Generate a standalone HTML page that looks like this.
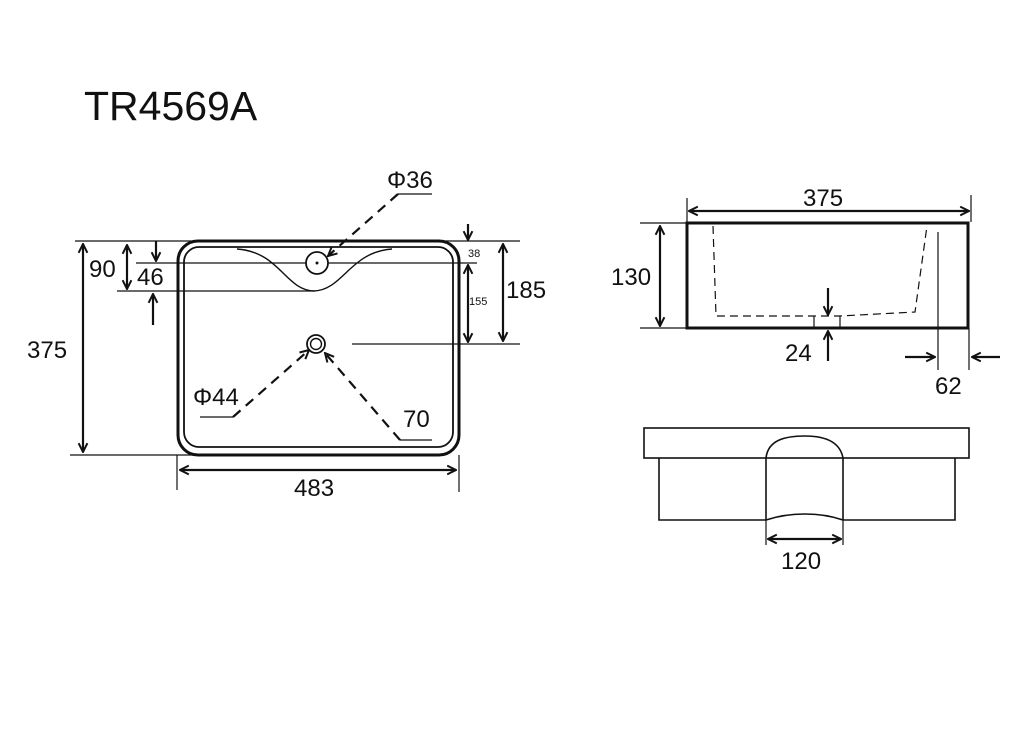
<!DOCTYPE html>
<html><head><style>
html,body{margin:0;padding:0;background:#fff;}
svg{display:block;}
text{font-family:"Liberation Sans",Arial,sans-serif;fill:#111;}
</style></head><body>
<svg width="1024" height="729" viewBox="0 0 1024 729" xmlns="http://www.w3.org/2000/svg">
<defs>
<marker id="a" viewBox="0 0 10 10" refX="9" refY="5" markerWidth="11" markerHeight="11" orient="auto-start-reverse" markerUnits="userSpaceOnUse">
<path d="M1,1 L9,5 L1,9" fill="none" stroke="#111" stroke-width="1.8"/>
</marker>
</defs>
<text x="84" y="120" font-size="41">TR4569A</text>

<g stroke="#111" fill="none">
<rect x="178" y="241" width="281" height="214" rx="20" stroke-width="3"/>
<rect x="184" y="247" width="269" height="200" rx="15" stroke-width="1.8"/>
<path d="M237,249 C280,252 285,290 314,291 C343,290 350,252 392,249" stroke-width="1.4"/>
<circle cx="317" cy="263" r="11" stroke-width="1.8"/>
<circle cx="317" cy="263" r="1" fill="#111"/>
<circle cx="316" cy="344" r="9" stroke-width="1.8"/>
<circle cx="316" cy="344" r="5.5" stroke-width="1.4"/>
<g stroke-width="1.2">
<line x1="75" y1="241" x2="520" y2="241"/>
<line x1="70" y1="455" x2="307" y2="455"/>
<line x1="136" y1="263" x2="306" y2="263"/>
<line x1="328" y1="263" x2="477" y2="263"/>
<line x1="117" y1="291" x2="314" y2="291"/>
<line x1="352" y1="344" x2="520" y2="344"/>
<line x1="177" y1="455" x2="177" y2="490"/>
<line x1="459" y1="455" x2="459" y2="492"/>
</g>
<g stroke-width="2.2">
<line x1="83" y1="244" x2="83" y2="452" marker-start="url(#a)" marker-end="url(#a)"/>
<line x1="127" y1="245" x2="127" y2="289" marker-start="url(#a)" marker-end="url(#a)"/>
<line x1="156" y1="241" x2="156" y2="261" marker-end="url(#a)"/>
<line x1="153" y1="325" x2="153" y2="294" marker-end="url(#a)"/>
<line x1="468" y1="224" x2="468" y2="240" marker-end="url(#a)"/>
<line x1="468" y1="265" x2="468" y2="342" marker-start="url(#a)" marker-end="url(#a)"/>
<line x1="503" y1="244" x2="503" y2="341" marker-start="url(#a)" marker-end="url(#a)"/>
<line x1="180" y1="470" x2="456" y2="470" marker-start="url(#a)" marker-end="url(#a)"/>
</g>
<g stroke-width="2.2" stroke-dasharray="10,7">
<line x1="398" y1="194" x2="328" y2="256" marker-end="url(#a)"/>
<line x1="233" y1="417" x2="309" y2="350" marker-end="url(#a)"/>
<line x1="400" y1="440" x2="325" y2="353" marker-end="url(#a)"/>
</g>
<g stroke-width="1.2">
<line x1="398" y1="194" x2="432" y2="194"/>
<line x1="200" y1="417" x2="233" y2="417"/>
<line x1="400" y1="440" x2="432" y2="440"/>
</g>

<rect x="687" y="223" width="281" height="105" stroke-width="3"/>
<g stroke-width="1.2">
<line x1="640" y1="223" x2="687" y2="223"/>
<line x1="640" y1="328" x2="687" y2="328"/>
<line x1="687" y1="198" x2="687" y2="222"/>
<line x1="971" y1="195" x2="971" y2="222"/>
<line x1="938" y1="232" x2="938" y2="370"/>
<line x1="969" y1="328" x2="969" y2="370"/>
<line x1="814" y1="316" x2="814" y2="328"/>
<line x1="840" y1="316" x2="840" y2="328"/>
</g>
<path d="M713,226 L716,316 L814,316 L840,316 L915,312 L927,226" stroke-width="1.2" stroke-dasharray="8,5"/>
<g stroke-width="2.2">
<line x1="689" y1="211" x2="969" y2="211" marker-start="url(#a)" marker-end="url(#a)"/>
<line x1="660" y1="226" x2="660" y2="326" marker-start="url(#a)" marker-end="url(#a)"/>
<line x1="828" y1="288" x2="828" y2="315" marker-end="url(#a)"/>
<line x1="828" y1="361" x2="828" y2="331" marker-end="url(#a)"/>
<line x1="905" y1="357" x2="935" y2="357" marker-end="url(#a)"/>
<line x1="1000" y1="357" x2="972" y2="357" marker-end="url(#a)"/>
</g>

<g stroke-width="1.6">
<rect x="644" y="428" width="325" height="30"/>
<path d="M659,458 L659,520 L766,520 M843,520 L955,520 L955,458"/>
<path d="M766,520 L766,458 C768,440 785,436 805,436 C825,436 840,442 843,458 L843,520"/>
<path d="M766,520 C790,512 820,512 843,520"/>
<line x1="766" y1="520" x2="766" y2="545" stroke-width="1.2"/>
<line x1="843" y1="520" x2="843" y2="545" stroke-width="1.2"/>
</g>
<line x1="768" y1="539" x2="841" y2="539" stroke-width="2.2" marker-start="url(#a)" marker-end="url(#a)"/>
</g>

<g font-size="24">
<text x="387" y="188">Φ36</text>
<text x="27" y="358">375</text>
<text x="89" y="277">90</text>
<text x="137" y="285">46</text>
<text x="506" y="298">185</text>
<text x="294" y="496">483</text>
<text x="193" y="405">Φ44</text>
<text x="403" y="427">70</text>
<text x="803" y="206">375</text>
<text x="611" y="285">130</text>
<text x="785" y="361">24</text>
<text x="935" y="394">62</text>
<text x="781" y="569">120</text>
</g>
<text x="468" y="257" font-size="11">38</text>
<text x="469" y="305" font-size="11">155</text>
</svg>
</body></html>
